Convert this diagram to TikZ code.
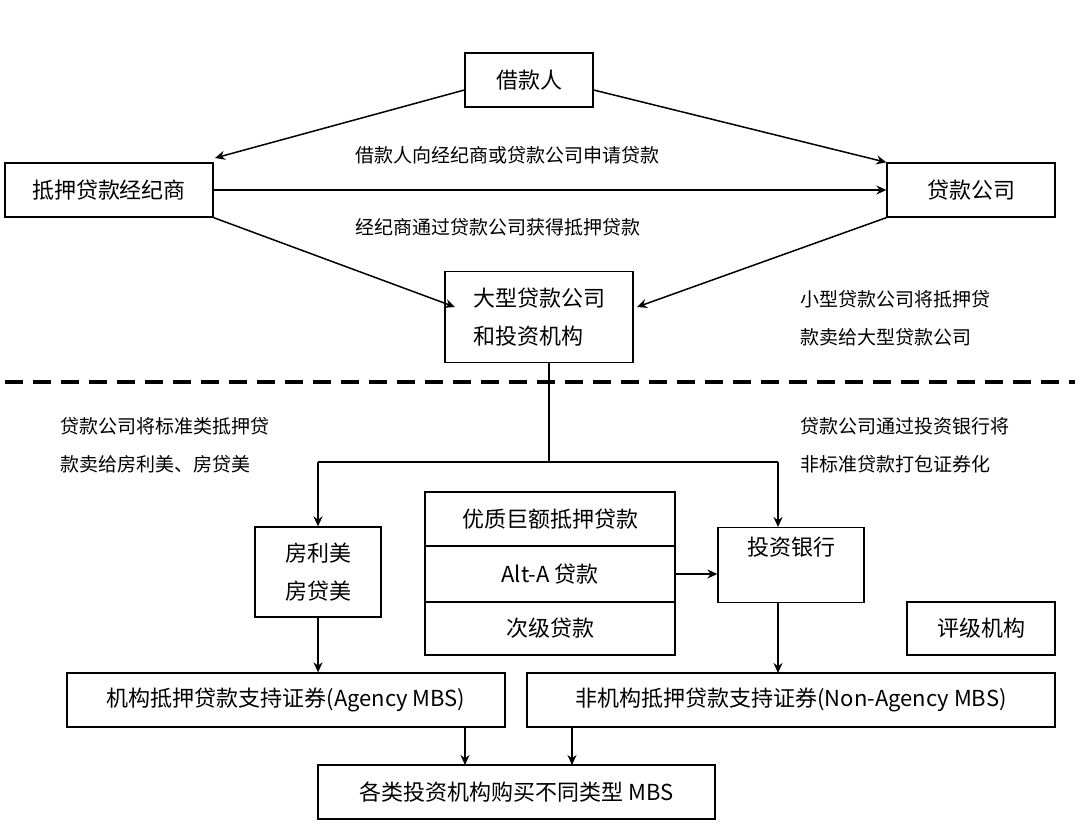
\documentclass[tikz,border=0pt]{standalone}
\usepackage{fontspec}
\setmainfont{Noto Sans CJK SC}
\usetikzlibrary{arrows.meta}
\begin{document}
\begin{tikzpicture}[x=1pt,y=-1pt,
 bx/.style={draw,line width=1.3pt,inner sep=0pt,font=\fontsize{22}{38}\selectfont},
 lb/.style={anchor=west,font=\fontsize{19}{38}\selectfont,align=left},
 ar/.style={line width=1.5pt,-{Stealth[length=10pt,width=9pt]}},
 ln/.style={line width=1.3pt}]
\useasboundingbox (0,0) rectangle (1080,839);
\node[bx,minimum width=128,minimum height=54] (b) at (529,80) {借款人};
\node[bx,minimum width=208,minimum height=54] (br) at (109,190) {抵押贷款经纪商};
\node[bx,minimum width=168,minimum height=54] (lc) at (971,190) {贷款公司};
\node[bx,minimum width=188,minimum height=91,align=left] (big) at (539,317) {大型贷款公司\\和投资机构};
\draw[line width=4pt,dash pattern=on 18pt off 10pt] (5,382) -- (1075,382);
\node[bx,minimum width=126,minimum height=90,align=center] (fm) at (318,572) {房利美\\房贷美};
\node[bx,minimum width=250,minimum height=54] (s1) at (550,519) {优质巨额抵押贷款};
\node[bx,minimum width=250,minimum height=56] (s2) at (550,574) {Alt-A 贷款};
\node[bx,minimum width=250,minimum height=53] (s3) at (550,628.5) {次级贷款};
\node[bx,minimum width=146,minimum height=75,anchor=north] (ib) at (791,527) {};
\node[anchor=north,font=\fontsize{22}{38}\selectfont] at (ib.north) [yshift=-6pt] {投资银行};
\node[bx,minimum width=148,minimum height=53] (ra) at (981,628.5) {评级机构};
\node[bx,minimum width=438,minimum height=54] (am) at (286,700) {机构抵押贷款支持证券(Agency MBS)};
\node[bx,minimum width=528,minimum height=54] (nm) at (791,700) {非机构抵押贷款支持证券(Non-Agency MBS)};
\node[bx,minimum width=397,minimum height=54] (all) at (516.5,792) {各类投资机构购买不同类型 MBS};
\draw[ar] (b.west|-0,90) -- (215,158);
\draw[ar] (b.east|-0,90) -- (lc.north west);
\draw[ar] (br.east) -- (lc.west);
\draw[ar] (br.south east) -- (455,307);
\draw[ar] (lc.south west) -- (637,307);
\draw[ln] (549,363) -- (549,462);
\draw[ln] (318,462) -- (778,462);
\draw[ar] (318,462) -- (fm.north);
\draw[ar] (778,462) -- (778,527);
\draw[ar] (s2.east) -- (ib.west|-s2.east);
\draw[ar] (fm.south) -- (fm.south|-am.north);
\draw[ar] (778,602) -- (778,673);
\draw[ar] (465,727) -- (465,765);
\draw[ar] (572,727) -- (572,765);
\node[lb] at (352,155) {借款人向经纪商或贷款公司申请贷款};
\node[lb] at (352,227) {经纪商通过贷款公司获得抵押贷款};
\node[lb] at (797,318) {小型贷款公司将抵押贷\\款卖给大型贷款公司};
\node[lb] at (57,445) {贷款公司将标准类抵押贷\\款卖给房利美、房贷美};
\node[lb] at (797,445) {贷款公司通过投资银行将\\非标准贷款打包证券化};
\end{tikzpicture}
\end{document}
